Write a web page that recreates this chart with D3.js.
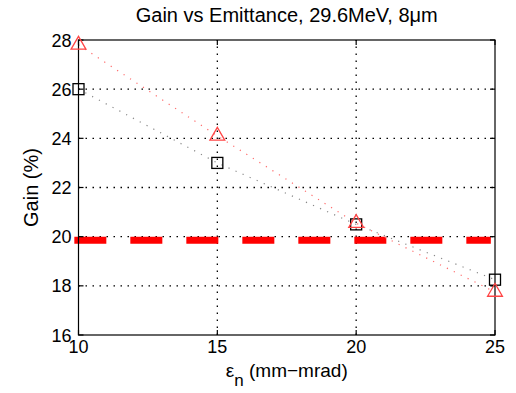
<!DOCTYPE html>
<html>
<head>
<meta charset="utf-8">
<script src="https://cdn.jsdelivr.net/npm/d3@7"></script>
<style>
  body { margin: 0; background: #fff; }
  svg { display: block; }
</style>
</head>
<body>
<div id="chart"></div>
<script>
const emittance = [10, 15, 20, 25];
const gainSquares = [26.0, 23.0, 20.5, 18.25];
const gainTriangles = [27.8, 24.1, 20.55, 17.75];
const thresholdX = [9.85, 24.85];
const thresholdY = 19.85;
const xTicks = [10, 15, 20, 25];
const yTicks = [16, 18, 20, 22, 24, 26, 28];

const width = 516, height = 393;
const margin = { left: 78.5, right: 21, top: 40, bottom: 58 };

const svg = d3.select("#chart").append("svg")
    .attr("width", width)
    .attr("height", height)
    .attr("font-family", "Liberation Sans, Arial, sans-serif");

const x = d3.scaleLinear().domain([10, 25]).range([margin.left, width - margin.right]);
const y = d3.scaleLinear().domain([16, 28]).range([height - margin.bottom, margin.top]);

const x0 = x.range()[0], x1 = x.range()[1];
const y0 = y.range()[0], y1 = y.range()[1];

// grid
const grid = svg.append("g")
    .attr("stroke", "#000")
    .attr("stroke-width", 1.3)
    .attr("stroke-dasharray", "1.5,5.5");
grid.selectAll("line.gx")
    .data(xTicks.slice(1, -1))
    .join("line")
    .attr("x1", d => x(d)).attr("x2", d => x(d))
    .attr("y1", y0).attr("y2", y1);
grid.selectAll("line.gy")
    .data(yTicks.slice(1, -1))
    .join("line")
    .attr("y1", d => y(d)).attr("y2", d => y(d))
    .attr("x1", x0).attr("x2", x1);

// threshold line
svg.append("line")
    .attr("x1", x(thresholdX[0])).attr("x2", x(thresholdX[1]))
    .attr("y1", y(thresholdY)).attr("y2", y(thresholdY))
    .attr("stroke", "#ff0000")
    .attr("stroke-width", 7)
    .attr("stroke-dasharray", "32,24");

const line = d3.line().x((d, i) => x(emittance[i])).y(d => y(d));

svg.append("path")
    .datum(gainSquares)
    .attr("d", line)
    .attr("fill", "none")
    .attr("stroke", "#888")
    .attr("stroke-width", 1.2)
    .attr("stroke-dasharray", "1.2,6.5");

svg.append("path")
    .datum(gainTriangles)
    .attr("d", line)
    .attr("fill", "none")
    .attr("stroke", "#ff6a6a")
    .attr("stroke-width", 1.2)
    .attr("stroke-dasharray", "1.2,6.5");

// axes box
svg.append("rect")
    .attr("x", x0).attr("y", y1)
    .attr("width", x1 - x0).attr("height", y0 - y1)
    .attr("fill", "none")
    .attr("stroke", "#000")
    .attr("stroke-width", 1.2);

const ticks = svg.append("g").attr("stroke", "#000").attr("stroke-width", 1.2);
xTicks.forEach(t => {
    ticks.append("line").attr("x1", x(t)).attr("x2", x(t)).attr("y1", y0).attr("y2", y0 - 5);
    ticks.append("line").attr("x1", x(t)).attr("x2", x(t)).attr("y1", y1).attr("y2", y1 + 5);
});
yTicks.forEach(t => {
    ticks.append("line").attr("y1", y(t)).attr("y2", y(t)).attr("x1", x0).attr("x2", x0 + 5);
    ticks.append("line").attr("y1", y(t)).attr("y2", y(t)).attr("x1", x1).attr("x2", x1 - 5);
});

// markers
svg.append("g").selectAll("rect")
    .data(gainSquares)
    .join("rect")
    .attr("x", (d, i) => x(emittance[i]) - 5.5)
    .attr("y", d => y(d) - 5.5)
    .attr("width", 11).attr("height", 11)
    .attr("fill", "none")
    .attr("stroke", "#000")
    .attr("stroke-width", 1.3);

const tri = d3.symbol().type(d3.symbolTriangle).size(95);
svg.append("g").selectAll("path")
    .data(gainTriangles)
    .join("path")
    .attr("d", tri)
    .attr("transform", (d, i) => `translate(${x(emittance[i])},${y(d)})`)
    .attr("fill", "none")
    .attr("stroke", "#ff4545")
    .attr("stroke-width", 1.3);

// tick labels
svg.append("g").selectAll("text")
    .data(xTicks)
    .join("text")
    .attr("x", d => x(d))
    .attr("y", y0 + 18)
    .attr("text-anchor", "middle")
    .attr("font-size", 18)
    .text(d => d);

svg.append("g").selectAll("text")
    .data(yTicks)
    .join("text")
    .attr("x", x0 - 7)
    .attr("y", d => y(d) + 6.5)
    .attr("text-anchor", "end")
    .attr("font-size", 18)
    .text(d => d);

// title
svg.append("text")
    .attr("x", (x0 + x1) / 2)
    .attr("y", 22)
    .attr("text-anchor", "middle")
    .attr("font-size", 20)
    .text("Gain vs Emittance, 29.6MeV, 8\u03bcm");

// axis labels
const xl = svg.append("text")
    .attr("x", (x0 + x1) / 2)
    .attr("y", 377)
    .attr("text-anchor", "middle")
    .attr("font-size", 19);
xl.append("tspan").text("\u03b5");
xl.append("tspan").attr("dy", 9).attr("font-size", 17).text("n");
xl.append("tspan").attr("dy", -9).text(" (mm\u2212mrad)");

svg.append("text")
    .attr("transform", `translate(38,${(y0 + y1) / 2}) rotate(-90)`)
    .attr("text-anchor", "middle")
    .attr("font-size", 20)
    .text("Gain (%)");
</script>
</body>
</html>
